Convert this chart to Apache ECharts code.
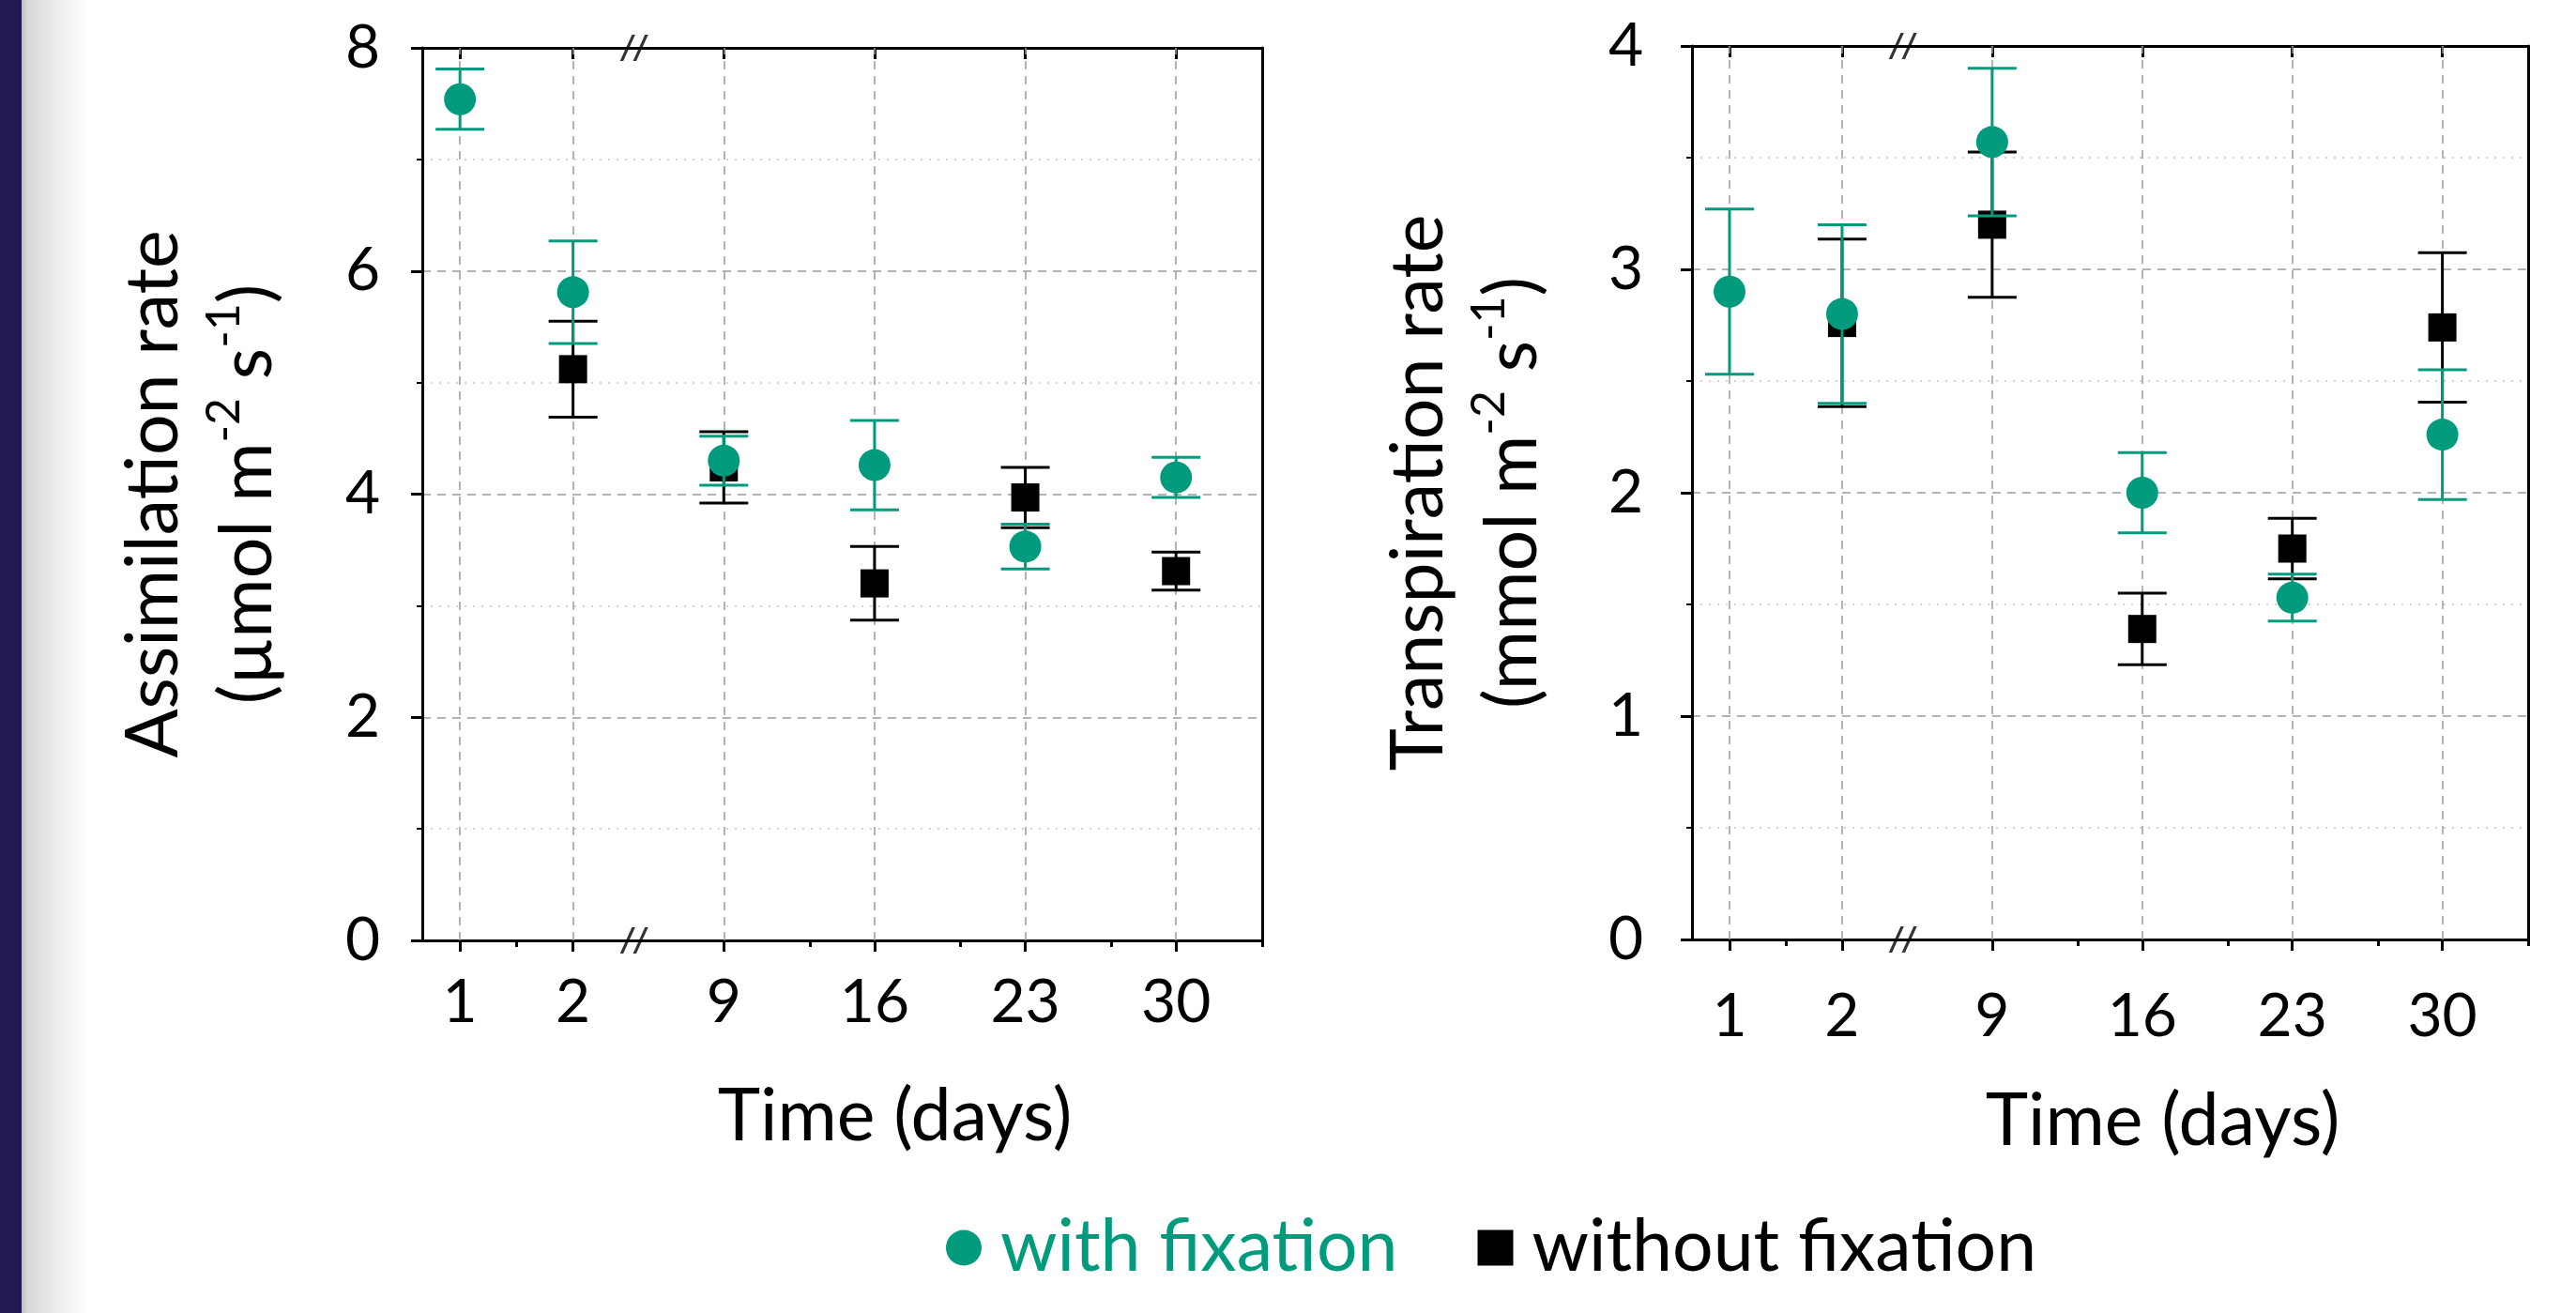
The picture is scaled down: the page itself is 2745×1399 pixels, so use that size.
<!DOCTYPE html>
<html><head><meta charset="utf-8">
<script src="https://cdn.jsdelivr.net/npm/echarts@6/dist/echarts.min.js"></script>
<style>html,body{margin:0;padding:0;background:#fff}#c{width:2745px;height:1399px}</style>
</head><body><div id="c"></div>
<script>
// ---------- data ----------
const dayLabels = ['1', '2', '9', '16', '23', '30'];
const days = [1, 2, 9, 16, 23, 30];
const minorDays = [1.5, 13, 20, 27, 34];

const assimWith       = [7.54, 5.81, 4.30, 4.26, 3.53, 4.15];
const assimWithErr    = [0.27, 0.46, 0.22, 0.40, 0.20, 0.18];
const assimWithout    = [null, 5.12, 4.24, 3.20, 3.97, 3.31];
const assimWithoutErr = [null, 0.43, 0.32, 0.33, 0.27, 0.17];

const transWith       = [2.90, 2.80, 3.57, 2.00, 1.53, 2.26];
const transWithErr    = [0.37, 0.40, 0.33, 0.18, 0.105, 0.29];
const transWithout    = [null, 2.76, 3.20, 1.39, 1.75, 2.74];
const transWithoutErr = [null, 0.375, 0.325, 0.16, 0.135, 0.335];

const assimTicks = [0, 2, 4, 6, 8];
const transTicks = [0, 1, 2, 3, 4];

// ---------- styling ----------
const GREEN = '#009b7d';
const FONT = 'Lato, "Open Sans", sans-serif';

// broken time axis: days 1-2 drawn expanded, then weekly spacing
function xPos(d) { return d <= 2 ? 1 + (d - 1) * 3 : 4 + (d - 2) * 4 / 7; }
const X_MAX = xPos(34);
const BREAK_AT = 5.62;
function labelFor(v) {
  for (let i = 0; i < days.length; i++) if (Math.abs(xPos(days[i]) - v) < 1e-6) return dayLabels[i];
  return '';
}

function xAxesFor(g, labelMargin, nameGap) {
  const base = {gridIndex: g, type: 'value', min: 0, max: X_MAX,
    splitLine: {show: false}, axisLabel: {show: false}, axisTick: {show: false}, axisLine: {show: false}};
  const line = {show: true, onZero: false, lineStyle: {color: '#000', width: 3}};
  return [
    Object.assign({}, base, {position: 'bottom', axisLine: line,
      axisTick: {show: true, length: 12, lineStyle: {color: '#000', width: 3}, customValues: days.map(xPos)},
      axisLabel: {show: true, customValues: days.map(xPos), formatter: labelFor, margin: labelMargin,
        fontSize: 64, fontFamily: FONT, color: '#000'},
      name: 'Time (days)', nameLocation: 'middle', nameGap: nameGap,
      nameTextStyle: {fontSize: 77, fontFamily: FONT, color: '#000', padding: [0, 0, 0, 112]}}),
    Object.assign({}, base, {position: 'bottom',
      axisTick: {show: true, length: 7, lineStyle: {color: '#000', width: 3}, customValues: minorDays.map(xPos)}}),
    Object.assign({}, base, {position: 'top', axisLine: line,
      axisTick: {show: true, inside: true, length: 12, lineStyle: {color: '#000', width: 3}, customValues: days.map(xPos)}}),
    Object.assign({}, base, {position: 'top',
      axisTick: {show: true, inside: true, length: 7, lineStyle: {color: '#000', width: 3}, customValues: minorDays.map(xPos)}})
  ];
}

function yAxesFor(g, ticks, labelMargin, nameGap, line1, unit) {
  const max = ticks[ticks.length - 1];
  const interval = ticks[1] - ticks[0];
  return [
    {gridIndex: g, type: 'value', position: 'left', min: ticks[0], max: max, interval: interval,
      axisLine: {show: true, onZero: false, lineStyle: {color: '#000', width: 3}},
      axisTick: {show: true, length: 12, lineStyle: {color: '#000', width: 3}},
      minorTick: {show: true, splitNumber: 2, length: 6, lineStyle: {color: '#000', width: 2}},
      axisLabel: {fontSize: 64, fontFamily: FONT, color: '#000', margin: labelMargin, padding: [24, 0, 0, 0]},
      splitLine: {show: true, lineStyle: {type: [9, 7], color: '#9a9a9a', width: 1.5}},
      minorSplitLine: {show: true, lineStyle: {type: [2, 7], color: '#c4c4c4', width: 1.5}},
      name: '{a|' + line1 + '}\n{a|(' + unit + ' m}{s|-2}{a| s}{s|-1}{a|)}',
      nameLocation: 'middle', nameRotate: 90, nameGap: nameGap,
      nameTextStyle: {color: '#000', fontFamily: FONT,
        rich: {a: {fontSize: 77, lineHeight: 100, fontFamily: FONT, color: '#000'},
               s: {fontSize: 50, lineHeight: 60, verticalAlign: 'top', fontFamily: FONT, color: '#000'}}}},
    {gridIndex: g, type: 'value', position: 'right', min: ticks[0], max: max, interval: interval,
      axisLine: {show: true, onZero: false, lineStyle: {color: '#000', width: 3}},
      axisTick: {show: false}, axisLabel: {show: false}, splitLine: {show: false}}
  ];
}

function pts(vals) {
  const out = [];
  vals.forEach((v, i) => { if (v != null) out.push([xPos(days[i]), v]); });
  return out;
}
function bars(vals, errs) {
  const out = [];
  vals.forEach((v, i) => { if (v != null) out.push([xPos(days[i]), v - errs[i], v + errs[i]]); });
  return out;
}
function errSeries(name, xi, yi, data, color, z) {
  return {name: name, type: 'custom', xAxisIndex: xi, yAxisIndex: yi, z: z, silent: true, data: data,
    renderItem: function (params, api) {
      const x = api.value(0);
      const a = api.coord([x, api.value(2)]);
      const b = api.coord([x, api.value(1)]);
      const hw = 26;
      const st = {stroke: color, lineWidth: 3};
      return {type: 'group', children: [
        {type: 'line', shape: {x1: a[0], y1: a[1], x2: b[0], y2: b[1]}, style: st},
        {type: 'line', shape: {x1: a[0] - hw, y1: a[1], x2: a[0] + hw, y2: a[1]}, style: st},
        {type: 'line', shape: {x1: b[0] - hw, y1: b[1], x2: b[0] + hw, y2: b[1]}, style: st}
      ]};
    }};
}
function gridSeries(xi, yi) {
  return {name: 'grid', type: 'scatter', xAxisIndex: xi, yAxisIndex: yi, data: [], silent: true, z: 1,
    markLine: {silent: true, z: 1, symbol: ['none', 'none'], label: {show: false}, animation: false,
      lineStyle: {type: [9, 7], color: '#9a9a9a', width: 1.5},
      data: days.map(d => ({xAxis: xPos(d)}))}};
}
function breakSeries(xi, yi, ymax) {
  return {name: 'break', type: 'scatter', xAxisIndex: xi, yAxisIndex: yi, z: 10, clip: false, silent: true,
    symbol: 'path://M0,28 L11,0 L14,0 L3,28 Z M12,28 L23,0 L26,0 L15,28 Z',
    symbolSize: [30, 28], symbolKeepAspect: false, itemStyle: {color: '#000'},
    data: [[BREAK_AT, 0], [BREAK_AT, ymax]]};
}
function panelSeries(xi, yi, withV, withE, woV, woE, ymax) {
  return [
    gridSeries(xi, yi),
    errSeries('without fixation SD', xi, yi, bars(woV, woE), '#000', 3),
    {name: 'without fixation', type: 'scatter', xAxisIndex: xi, yAxisIndex: yi, z: 4,
      symbol: 'rect', symbolSize: 30, itemStyle: {color: '#000', opacity: 1}, data: pts(woV)},
    errSeries('with fixation SD', xi, yi, bars(withV, withE), GREEN, 5),
    {name: 'with fixation', type: 'scatter', xAxisIndex: xi, yAxisIndex: yi, z: 6,
      symbol: 'circle', symbolSize: 34, itemStyle: {color: GREEN, opacity: 1}, data: pts(withV)},
    breakSeries(xi, yi, ymax)
  ];
}

const chart = echarts.init(document.getElementById('c'), null, {renderer: 'canvas'});
chart.setOption({
  animation: false,
  backgroundColor: '#fff',
  textStyle: {fontFamily: FONT},
  graphic: [
    {type: 'rect', left: 0, top: 0, shape: {width: 23, height: 1399}, style: {fill: '#201a50'}, z: 100},
    {type: 'rect', left: 23, top: 0, shape: {width: 75, height: 1399}, z: 100,
      style: {fill: new echarts.graphic.LinearGradient(0, 0, 1, 0, [
        {offset: 0, color: '#bdbdbd'}, {offset: 0.08, color: '#d6d6d6'}, {offset: 0.3, color: '#e2e2e2'},
        {offset: 0.55, color: '#efefef'}, {offset: 0.8, color: '#f8f8f8'}, {offset: 1, color: '#ffffff'}])}}
  ],
  grid: [
    {left: 450, top: 51, width: 895, height: 951, containLabel: false, outerBoundsMode: 'none'},
    {left: 1803, top: 49, width: 891, height: 952, containLabel: false, outerBoundsMode: 'none'}
  ],
  legend: {
    left: 1003, top: 1286, itemWidth: 38, itemHeight: 38, itemGap: 85,
    textStyle: {fontSize: 77, fontFamily: FONT, padding: [0, 0, 0, 15]},
    data: [
      {name: 'with fixation', icon: 'circle', itemStyle: {color: GREEN}, textStyle: {color: GREEN}},
      {name: 'without fixation', icon: 'rect', itemStyle: {color: '#000'}, textStyle: {color: '#000'}}
    ],
    selectedMode: false
  },
  xAxis: xAxesFor(0, 34, 150).concat(xAxesFor(1, 50, 156)),
  yAxis: yAxesFor(0, assimTicks, 45, 136, 'Assimilation rate', 'µmol')
    .concat(yAxesFor(1, transTicks, 52, 141, 'Transpiration rate', 'mmol')),
  series: panelSeries(0, 0, assimWith, assimWithErr, assimWithout, assimWithoutErr, 8)
    .concat(panelSeries(4, 2, transWith, transWithErr, transWithout, transWithoutErr, 4))
});
</script></body></html>
